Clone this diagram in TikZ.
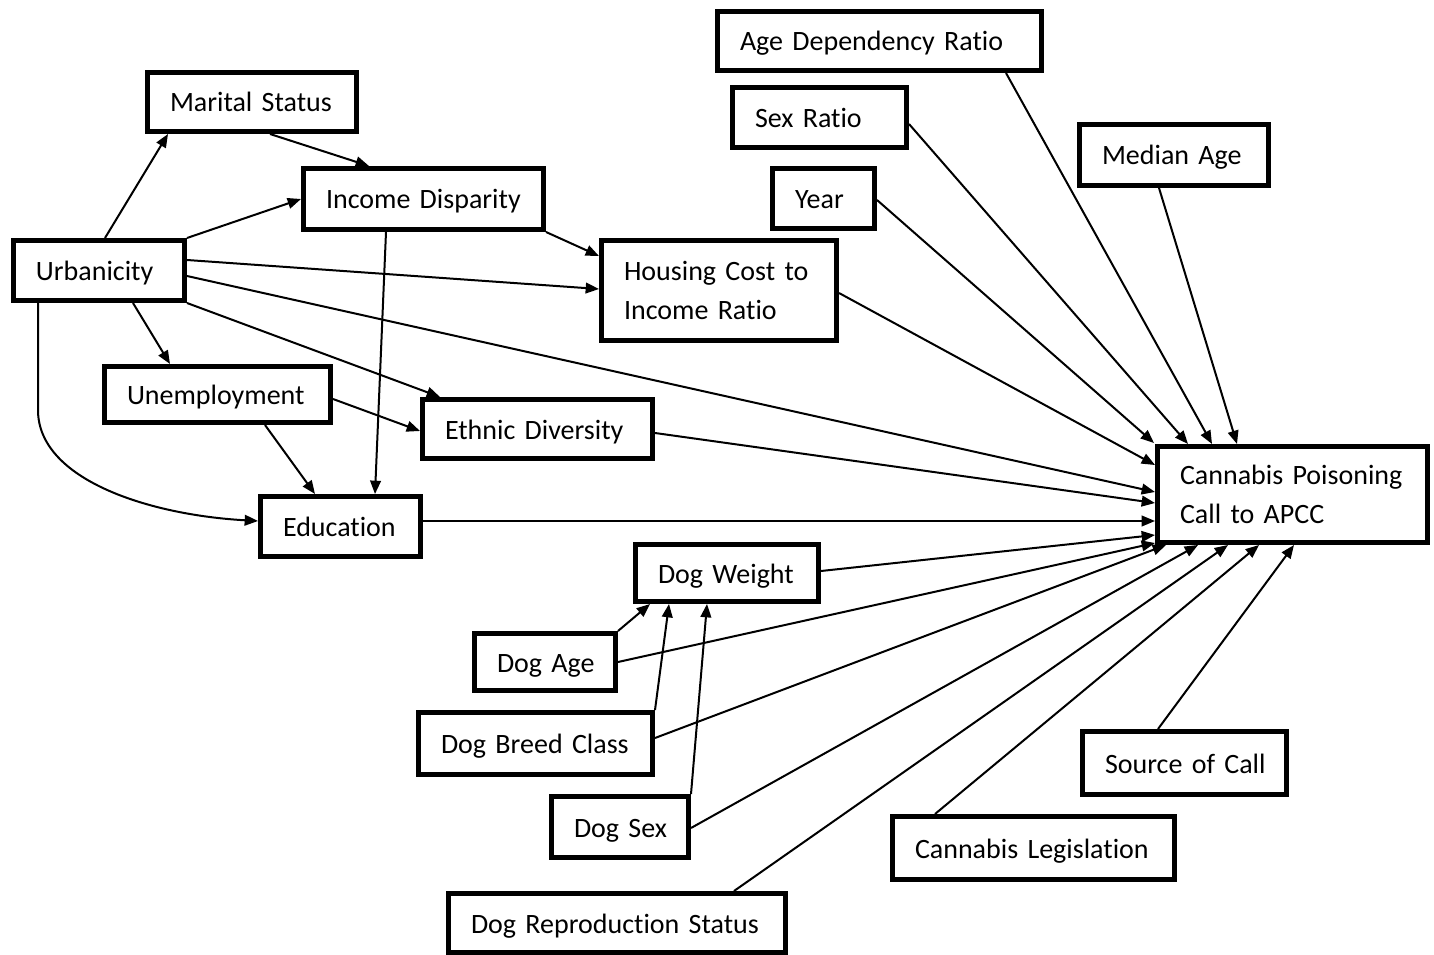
\documentclass[tikz,border=0pt]{standalone}
\usepackage{fontspec}
\setmainfont{Carlito}[Ligatures=NoCommon]
\usetikzlibrary{arrows.meta,calc}
\tikzset{
  boxbase/.style={draw, rectangle, line width=3.75pt, inner xsep=16.875pt, inner ysep=0pt,
    align=left, font=\fontsize{21}{29.5}\selectfont},
  box/.style={boxbase, text height=15pt, text depth=0pt},
  mbox/.style={boxbase},
  arr/.style={line width=1.5pt, -{Triangle[length=10pt,width=8pt]}},
}
\begin{document}
\begin{tikzpicture}[x=0.75pt,y=-0.75pt]
\useasboundingbox (0,0) rectangle (1434,955);
% nodes
\node[box, minimum width=243pt, minimum height=44.25pt, text width=209.25pt] (adr) at (879.5,41) {\mbox{Age Dependency Ratio}};
\node[box, minimum width=130.5pt, minimum height=45pt, text width=96.75pt] (sr) at (819.5,117.5) {\mbox{Sex Ratio}};
\node[box, minimum width=76.5pt, minimum height=45pt, text width=42.75pt] (yr) at (823.5,198.5) {\mbox{Year}};
\node[box, minimum width=141.75pt, minimum height=45.75pt, text width=108pt] (ma) at (1174,155) {\mbox{Median Age}};
\node[box, minimum width=156.75pt, minimum height=44.25pt, text width=123pt] (ms) at (252,102) {\mbox{Marital Status}};
\node[box, minimum width=180pt, minimum height=45.75pt, text width=146.25pt] (id) at (423.5,199) {\mbox{Income Disparity}};
\node[box, minimum width=128.25pt, minimum height=45pt, text width=94.5pt] (urb) at (99,270.5) {\mbox{Urbanicity}};
\node[mbox, minimum width=176.25pt, minimum height=75pt, text width=142.5pt] (hc) at (719,290.5) {\mbox{Housing Cost to}\\\mbox{Income Ratio}};
\node[box, minimum width=169.5pt, minimum height=42pt, text width=135.75pt] (un) at (217.5,394.5) {\mbox{Unemployment}};
\node[box, minimum width=172.5pt, minimum height=44.25pt, text width=138.75pt] (eth) at (537.5,429) {\mbox{Ethnic Diversity}};
\node[box, minimum width=120pt, minimum height=45pt, text width=86.25pt] (edu) at (340.5,526.5) {\mbox{Education}};
\node[mbox, minimum width=202.5pt, minimum height=72pt, text width=168.75pt] (cp) at (1292.5,494.5) {\mbox{Cannabis Poisoning}\\\mbox{Call to APCC}};
\node[box, minimum width=137.25pt, minimum height=42.75pt, text width=103.5pt] (dw) at (727,573) {\mbox{Dog Weight}};
\node[box, minimum width=105.75pt, minimum height=42.75pt, text width=72pt] (da) at (545,662) {\mbox{Dog Age}};
\node[box, minimum width=175.5pt, minimum height=46.5pt, text width=141.75pt] (db) at (535.5,743.5) {\mbox{Dog Breed Class}};
\node[box, minimum width=102.75pt, minimum height=45.75pt, text width=69pt] (ds) at (620,827) {\mbox{Dog Sex}};
\node[box, minimum width=252.75pt, minimum height=44.25pt, text width=219pt] (dr) at (617,923) {\mbox{Dog Reproduction Status}};
\node[box, minimum width=153pt, minimum height=47.25pt, text width=119.25pt] (sc) at (1184.5,763) {\mbox{Source of Call}};
\node[box, minimum width=211.5pt, minimum height=47.25pt, text width=177.75pt] (cl) at (1033.5,848) {\mbox{Cannabis Legislation}};
% connectors
\draw[arr] ($(urb.north west)+(94,0)$) -- ($(ms.south west)+(23,0)$);
\draw[arr] ($(ms.south west)+(125,0)$) -- ($(id.north west)+(68,0)$);
\draw[arr] (urb.north east) -- (id.west);
\draw[arr] (id.south east) -- ($(hc.north west)+(0,18)$);
\draw[arr] ($(urb.north east)+(0,22)$) -- ($(hc.north west)+(0,51)$);
\draw[arr] ($(urb.north east)+(0,38)$) -- ($(cp.north west)+(0,48)$);
\draw[arr] (urb.south east) -- ($(eth.north west)+(20,0)$);
\draw[arr] ($(urb.south west)+(122,0)$) -- ($(un.north west)+(68,0)$);
\draw[arr] ($(urb.south west)+(27,0)$) -- ++(0,107) .. controls +(0,70) and +(-108,-6) .. ($(edu.north west)+(0,27)$);
\draw[arr] ($(un.north east)+(0,35)$) -- ($(eth.north west)+(0,34)$);
\draw[arr] ($(un.south west)+(163,0)$) -- ($(edu.north west)+(57,0)$);
\draw[arr] ($(id.south west)+(85,0)$) -- ($(edu.north west)+(117,0)$);
\draw[arr] ($(eth.north east)+(0,36)$) -- ($(cp.north west)+(0,59)$);
\coordinate (e1) at ($(edu.north east)+(0,27)$);
\draw[arr] (e1) -- (e1 -| cp.west);
\draw[arr] ($(hc.north east)+(0,55)$) -- ($(cp.north west)+(0,21)$);
\draw[arr] ($(yr.north east)+(0,34)$) -- ($(cp.north west)+(-1,-1)$);
\draw[arr] ($(sr.north east)+(0,39)$) -- ($(cp.north west)+(33,0)$);
\draw[arr] ($(adr.south west)+(291,0)$) -- ($(cp.north west)+(57,0)$);
\draw[arr] ($(ma.south west)+(82,0)$) -- ($(cp.north west)+(82,0)$);
\draw[arr] ($(dw.north east)+(0,29)$) -- ($(cp.north west)+(0,91)$);
\draw[arr] (da.north east) -- ($(dw.south west)+(17,0)$);
\draw[arr] (db.north east) -- ($(dw.south west)+(36,0)$);
\draw[arr] (ds.north east) -- ($(dw.south west)+(74,0)$);
\draw[arr] (da.east) -- ($(cp.south west)+(0,-2)$);
\draw[arr] ($(db.north east)+(0,28)$) -- ($(cp.south west)+(11,0)$);
\draw[arr] ($(ds.north east)+(0,34)$) -- ($(cp.south west)+(43,0)$);
\draw[arr] ($(dr.north west)+(288,0)$) -- ($(cp.south west)+(73,0)$);
\draw[arr] ($(cl.north west)+(45,0)$) -- ($(cp.south west)+(104,0)$);
\draw[arr] ($(sc.north west)+(78,0)$) -- ($(cp.south west)+(139,0)$);
\end{tikzpicture}
\end{document}
